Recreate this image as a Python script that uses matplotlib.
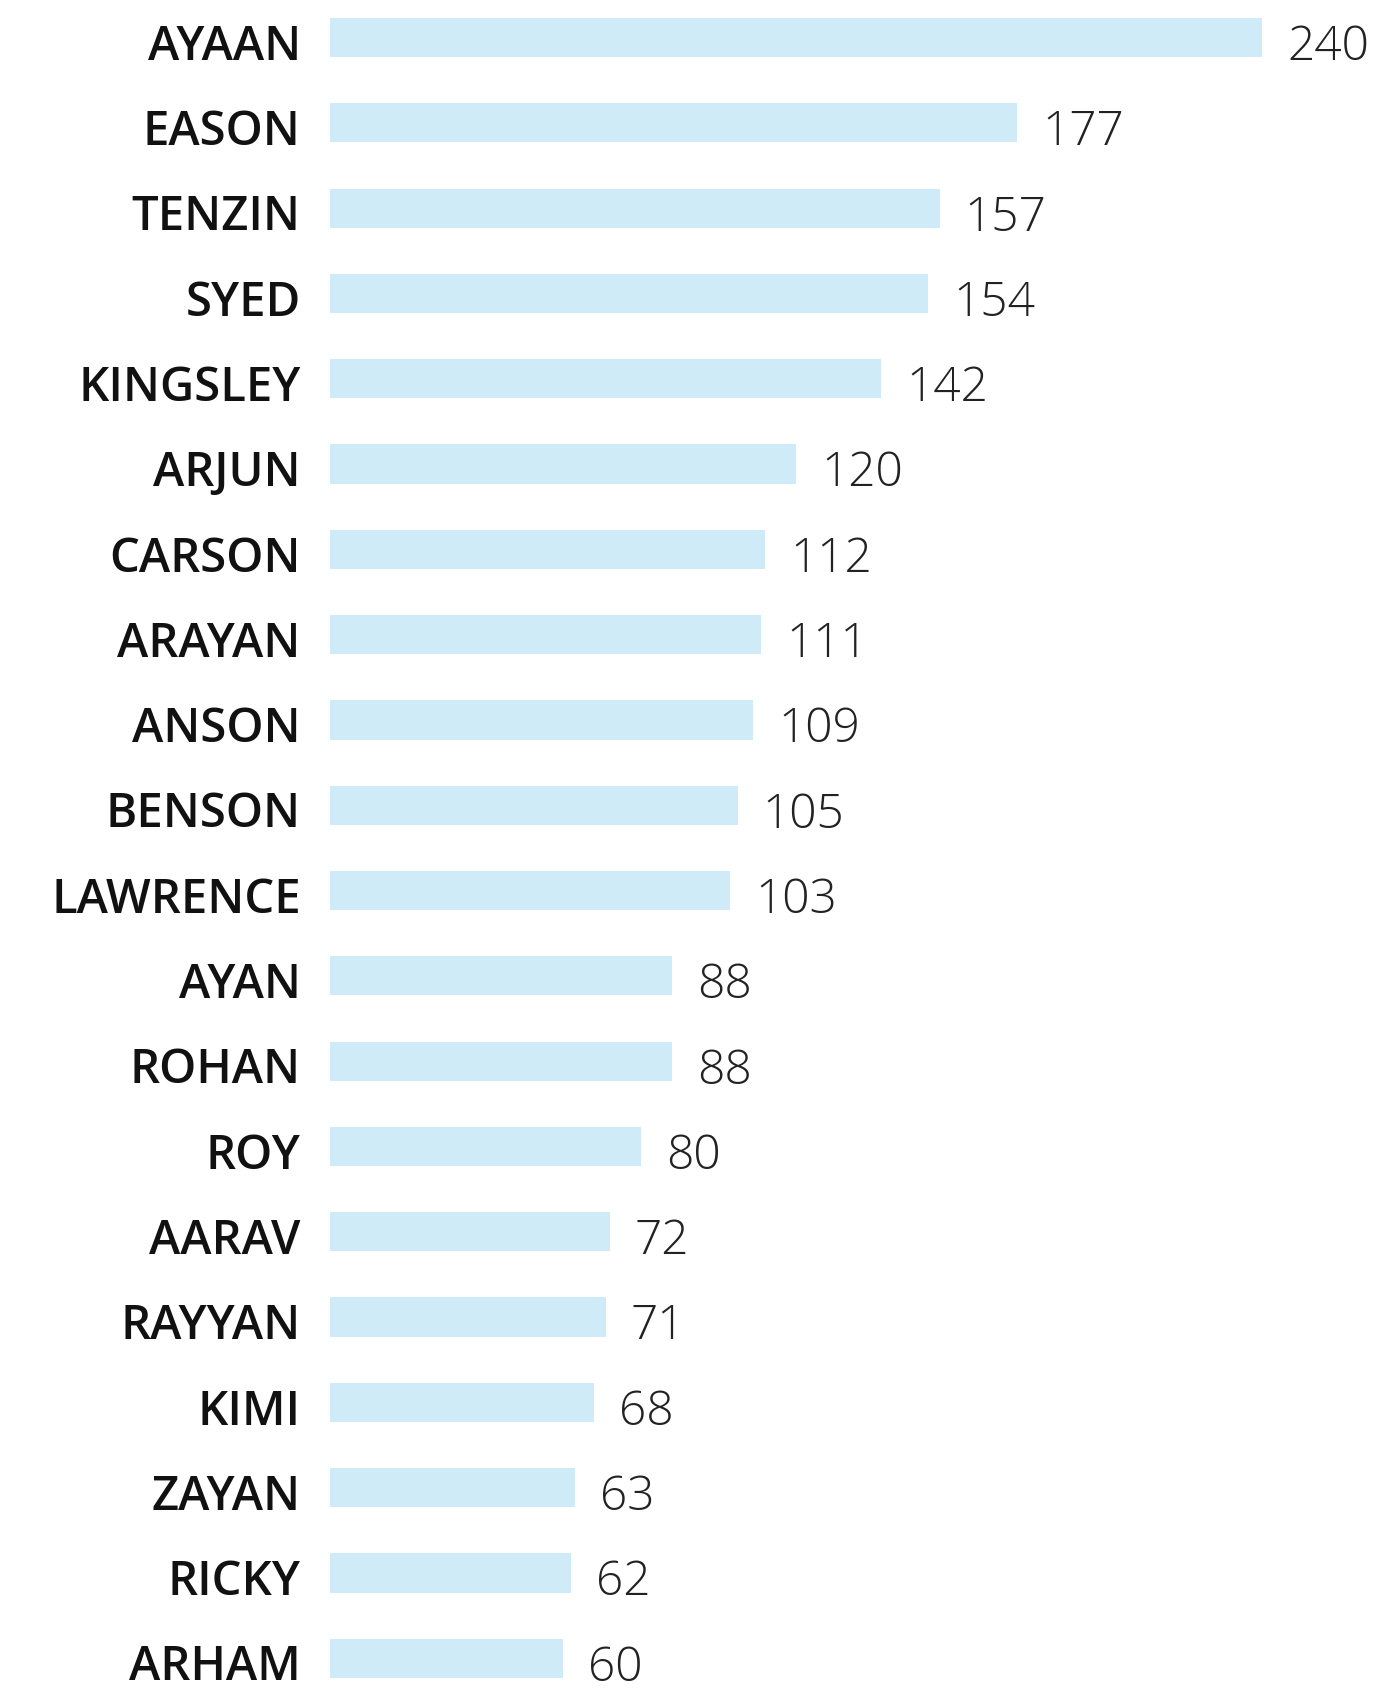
import matplotlib.pyplot as plt

names = ["AYAAN", "EASON", "TENZIN", "SYED", "KINGSLEY", "ARJUN", "CARSON",
         "ARAYAN", "ANSON", "BENSON", "LAWRENCE", "AYAN", "ROHAN", "ROY",
         "AARAV", "RAYYAN", "KIMI", "ZAYAN", "RICKY", "ARHAM"]
counts = [240, 177, 157, 154, 142, 120, 112, 111, 109, 105, 103, 88, 88, 80,
          72, 71, 68, 63, 62, 60]

W, H = 1399, 1689
fig = plt.figure(figsize=(W / 100, H / 100), dpi=100)
ax = fig.add_axes([330 / W, 0, (W - 330) / W, 1])

pos = list(range(len(names)))
ax.barh(pos, counts, height=0.46, color="#cfebf7")

ax.set_xlim(0, (W - 330) / 3.883)
ax.set_ylim(19.36, -0.44)
ax.axis("off")

for i, (n, v) in enumerate(zip(names, counts)):
    ax.annotate(n, (0, i), xytext=(-21, -3), textcoords="offset points",
                ha="right", va="center_baseline", fontsize=34,
                family="Open Sans", weight="semibold", color="#111111")
    ax.annotate(str(v), (v, i), xytext=(18, -3), textcoords="offset points",
                ha="left", va="center_baseline", fontsize=34.5,
                family="Open Sans", weight="light", color="#222222")

fig.savefig("out.png", dpi=100)
